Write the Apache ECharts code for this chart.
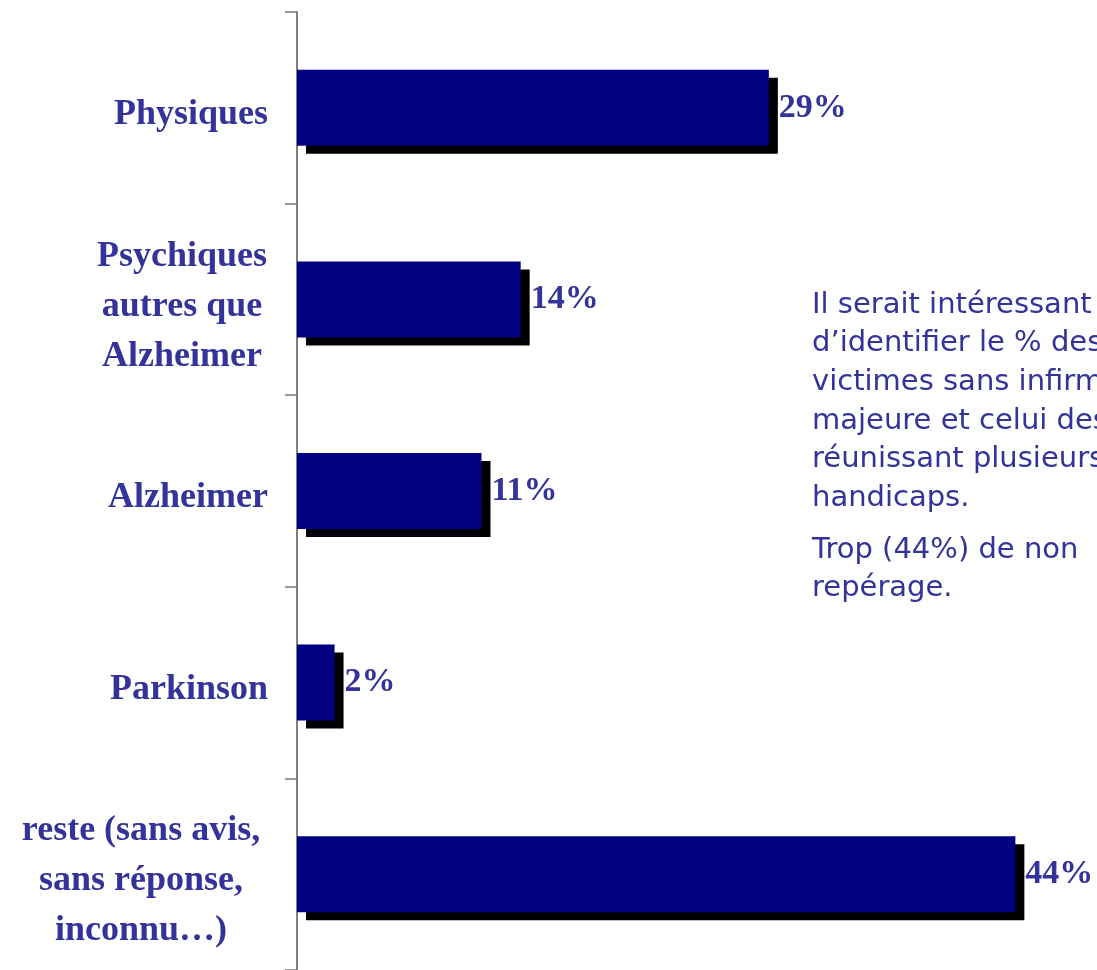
<!DOCTYPE html>
<html>
<head>
<meta charset="utf-8">
<script src="https://cdn.jsdelivr.net/npm/echarts@6/dist/echarts.min.js"></script>
<style>
  html, body { margin: 0; padding: 0; background: #fff; }
  #chart { width: 1097px; height: 970px; }
</style>
</head>
<body>
<div id="chart"></div>
<script>
// catégories (de haut en bas)
var categories = [
    'Physiques',
    'Psychiques\nautres que\nAlzheimer',
    'Alzheimer',
    'Parkinson',
    'reste (sans avis,\nsans réponse,\ninconnu…)'
];
// longueurs des barres (en %)
var values = [28.9, 13.7, 11.3, 2.3, 44.0];
// étiquettes affichées
var valueLabels = ['29%', '14%', '11%', '2%', '44%'];

var noteLines1 = [
    'Il serait intéressant',
    'd\u2019identifier le % des',
    'victimes sans infirmité',
    'majeure et celui des',
    'réunissant plusieurs',
    'handicaps.'
];
var noteLines2 = [
    'Trop (44%) de non',
    'repérage.'
];

var labelColor = '#333399';
var serif = '"Liberation Serif", "Times New Roman", serif';

var chart = echarts.init(document.getElementById('chart'));

var option = {
    backgroundColor: '#fff',
    animation: false,
    grid: {
        left: 297,
        top: 12,
        width: 800,
        height: 965
    },
    xAxis: {
        type: 'value',
        min: 0,
        max: 49,
        show: false
    },
    yAxis: {
        type: 'category',
        inverse: true,
        data: categories,
        axisLine: {
            show: true,
            lineStyle: { color: '#555', width: 1.5 }
        },
        axisTick: {
            show: true,
            inside: false,
            length: 12,
            lineStyle: { color: '#777', width: 1.5 }
        },
        axisLabel: {
            margin: 29,
            align: 'right',
            padding: [14, 0, 0, 0],
            color: labelColor,
            fontFamily: serif,
            fontWeight: 'bold',
            fontSize: 36,
            lineHeight: 50,
            formatter: function (val, idx) {
                // lignes centrées pour les libellés sur plusieurs lignes
                if (idx === 1) {
                    return val.split('\n').map(function (s) { return '{a|' + s + '}'; }).join('\n');
                }
                if (idx === 4) {
                    return val.split('\n').map(function (s) { return '{b|' + s + '}'; }).join('\n');
                }
                return val;
            },
            rich: {
                a: {
                    width: 172, align: 'center', color: labelColor,
                    fontFamily: serif, fontWeight: 'bold', fontSize: 36, lineHeight: 50
                },
                b: {
                    width: 254, align: 'center', color: labelColor,
                    fontFamily: serif, fontWeight: 'bold', fontSize: 36, lineHeight: 50
                }
            }
        },
        splitLine: { show: false }
    },
    series: [{
        type: 'bar',
        data: values,
        barWidth: 76,
        itemStyle: {
            color: '#000080',
            shadowColor: '#000',
            shadowBlur: 0,
            shadowOffsetX: 9,
            shadowOffsetY: 8
        },
        label: {
            show: true,
            position: 'right',
            distance: 10,
            color: labelColor,
            fontFamily: serif,
            fontWeight: 'bold',
            fontSize: 34,
            formatter: function (p) {
                return valueLabels[p.dataIndex];
            }
        }
    }],
    graphic: [
        {
            type: 'text',
            left: 812,
            top: 286,
            style: {
                text: noteLines1.join('\n'),
                fill: labelColor,
                font: '29px "Comic Sans MS", "DejaVu Sans", sans-serif',
                lineHeight: 38.6
            }
        },
        {
            type: 'text',
            left: 812,
            top: 531,
            style: {
                text: noteLines2.join('\n'),
                fill: labelColor,
                font: '29px "Comic Sans MS", "DejaVu Sans", sans-serif',
                lineHeight: 38.6
            }
        }
    ]
};

chart.setOption(option);
</script>
</body>
</html>
